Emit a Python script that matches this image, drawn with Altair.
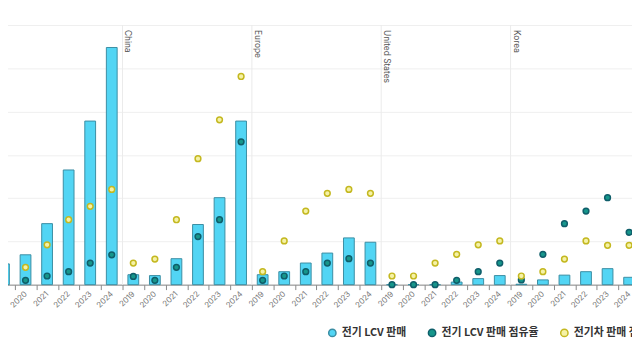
import altair as alt
import pandas as pd

countries = ["World", "China", "Europe", "United States", "Korea"]
years = ["2019", "2020", "2021", "2022", "2023", "2024"]

S1 = "전기 LCV 판매"
S2 = "전기 LCV 판매 점유율"
S3 = "전기차 판매 점유율"

# 전기 LCV 판매 (thousand units)
lcv_sales_world = [48, 69, 141, 265, 378, 548]
lcv_sales_china = [23, 21, 60, 139, 201, 378]
lcv_sales_europe = [23, 30, 50, 73, 108, 98]
lcv_sales_us = [0, 0, 0, 6, 14, 21]
lcv_sales_korea = [1, 11, 22, 30, 37, 17]

# 전기 LCV 판매 점유율 (%)
lcv_share_world = [1.0, 1.0, 2.0, 3.0, 5.0, 6.9]
lcv_share_china = [1.9, 1.0, 4.0, 11.1, 15.0, 33.0]
lcv_share_europe = [1.0, 2.0, 3.0, 5.0, 6.0, 5.0]
lcv_share_us = [0.0, 0.0, 0.0, 1.0, 3.0, 5.0]
lcv_share_korea = [1.1, 7.0, 14.1, 17.0, 20.1, 12.1]

# 전기차 판매 점유율 (%)
ev_share_world = [2.9, 4.0, 9.2, 15.0, 18.1, 22.0]
ev_share_china = [5.0, 5.9, 15.0, 29.1, 38.1, 48.1]
ev_share_europe = [3.0, 10.1, 17.0, 21.1, 22.0, 21.1]
ev_share_us = [2.0, 2.0, 5.0, 7.0, 9.2, 10.1]
ev_share_korea = [2.0, 3.0, 5.9, 10.1, 9.1, 9.1]

sales = [lcv_sales_world, lcv_sales_china, lcv_sales_europe, lcv_sales_us, lcv_sales_korea]
lcv_share = [lcv_share_world, lcv_share_china, lcv_share_europe, lcv_share_us, lcv_share_korea]
ev_share = [ev_share_world, ev_share_china, ev_share_europe, ev_share_us, ev_share_korea]

keys = [f"{c}|{y}" for c in countries for y in years]

bar_rows, pt_rows = [], []
for ci, c in enumerate(countries):
    for yi, y in enumerate(years):
        k = f"{c}|{y}"
        bar_rows.append({"key": k, "series": S1, "value": sales[ci][yi]})
        pt_rows.append({"key": k, "series": S2, "value": lcv_share[ci][yi]})
        pt_rows.append({"key": k, "series": S3, "value": ev_share[ci][yi]})
bars_df = pd.DataFrame(bar_rows)
pts_df = pd.DataFrame(pt_rows)
lab_df = pd.DataFrame({"key": [f"{c}|{years[0]}" for c in countries], "country": countries})

series_domain = [S1, S2, S3]
fill_range = ["#52d5f4", "#16968b", "#f5f2a6"]
stroke_range = ["#3b8da3", "#0f5e6a", "#c4b820"]

x_scale = alt.Scale(domain=keys, range=[-15, 640], paddingInner=0, paddingOuter=0)
y_scale = alt.Scale(domain=[0, 600], nice=False)

legend = alt.Legend(
    orient="none", legendX=323, legendY=306, direction="horizontal", title=None,
    symbolType="circle", symbolSize=55, symbolStrokeWidth=1.5,
    labelFont="Noto Sans CJK KR", labelFontSize=11, labelFontWeight="bold",
    labelColor="#333333", columnPadding=18, padding=0, labelLimit=300,
)

fill_enc = alt.Fill("series:N", scale=alt.Scale(domain=series_domain, range=fill_range), legend=legend)
stroke_enc = alt.Stroke("series:N", scale=alt.Scale(domain=series_domain, range=stroke_range), legend=legend)

x_axis = alt.Axis(
    title=None, labelExpr="split(datum.label, '|')[1]", labelAngle=-45,
    labelAlign="right", labelBaseline="middle", labelFontSize=8, labelColor="#777777",
    labelFont="Inter", labelPadding=3, tickBand="extent", tickColor="#888888",
    tickSize=5, domainColor="#888888", grid=False,
)

bars = alt.Chart(bars_df).mark_bar(strokeWidth=1, width={"band": 0.5}).encode(
    x=alt.X("key:N", scale=x_scale, axis=x_axis, sort=keys),
    y=alt.Y("value:Q", scale=y_scale, axis=alt.Axis(
        title=None, labels=False, ticks=False, domain=False, grid=True,
        values=[0, 100, 200, 300, 400, 500, 600], gridColor="#efefef")),
    fill=fill_enc,
    stroke=stroke_enc,
)

points = alt.Chart(pts_df).transform_calculate(
    yv="datum.value * 10"
).mark_point(filled=True, size=34, strokeWidth=1.5, opacity=1).encode(
    x=alt.X("key:N", sort=keys),
    y=alt.Y("yv:Q"),
    fill=fill_enc,
    stroke=stroke_enc,
)

seps = alt.Chart(lab_df).mark_rule(color="#ebebeb", strokeWidth=1).encode(
    x=alt.X("key:N", bandPosition=0, sort=keys),
    y=alt.datum(600),
    y2=alt.datum(0),
)

labels = alt.Chart(lab_df).mark_text(
    angle=90, align="left", baseline="bottom", dx=5, dy=-1,
    fontSize=8.5, font="Inter", color="#555555",
).encode(
    x=alt.X("key:N", bandPosition=0, sort=keys),
    y=alt.datum(600),
    text="country:N",
)

chart = alt.layer(seps, bars, points, labels).properties(
    width=632, height=263,
    autosize=alt.AutoSizeParams(type="none"),
    padding={"left": 0, "top": 15, "right": 0, "bottom": 66},
).configure_view(strokeWidth=0)

chart.save("out.html", embed_options={"renderer": "svg", "actions": False})
